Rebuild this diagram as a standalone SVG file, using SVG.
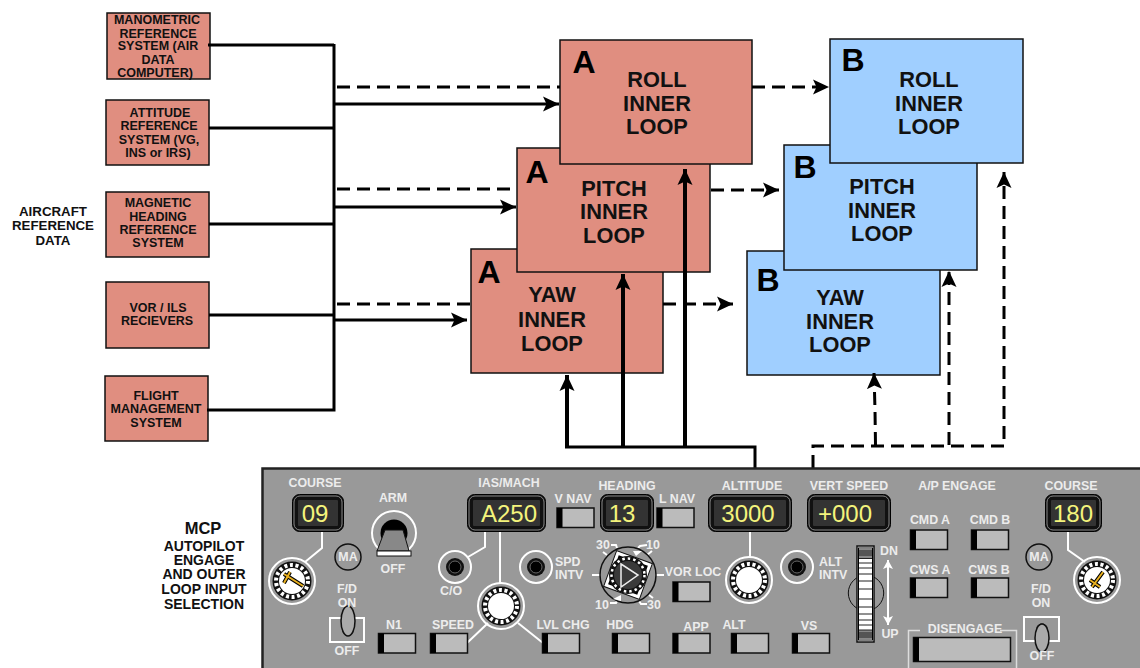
<svg xmlns="http://www.w3.org/2000/svg" width="1140" height="668" viewBox="0 0 1140 668">
<style>
text{font-family:"Liberation Sans",Arial,sans-serif;font-weight:700;text-anchor:middle}
.src{fill:#e08e80;stroke:#111;stroke-width:1.5}
.red{fill:#e08e80;stroke:#111;stroke-width:1.5}
.blue{fill:#a0cfff;stroke:#111;stroke-width:1.5}
.s{font-size:12.5px;fill:#111}
.o{font-size:13.300px;fill:#111}
.m{font-size:14px;fill:#111}
.big{font-size:21.800px;fill:#111}
.let{font-size:32px;fill:#000}
.p{font-size:12.400px;fill:#ececec}
.pl{text-anchor:start}
.num{font-size:24px;font-weight:400;fill:#f4f47c}
.sol{fill:none;stroke:#000;stroke-width:3}
.sol4{fill:none;stroke:#000;stroke-width:4}
.dash{fill:none;stroke:#000;stroke-width:3;stroke-dasharray:13 7}
.w{fill:none;stroke:#fff;stroke-width:2}
.bf{fill:#bbb;stroke:#111;stroke-width:1.5}
</style>
<defs>
<marker id="ah" markerUnits="userSpaceOnUse" markerWidth="18" markerHeight="18" refX="16" refY="8" orient="auto">
<path d="M0,0.5 L16,8 L0,15.5 L3.5,8z" fill="#000"/>
</marker>
<marker id="ahw" markerUnits="userSpaceOnUse" markerWidth="12" markerHeight="12" refX="9" refY="5" orient="auto">
<path d="M0,0 L9,5 L0,10 L2,5z" fill="#fff"/>
</marker>
<g id="btn"><rect class="bf" x="0" y="0" width="37" height="19.5"/><rect x="0" y="0" width="5.5" height="19.5" fill="#000"/></g>
<g id="knob"><circle r="23" fill="none" stroke="#fff" stroke-width="2"/><circle r="19.5" fill="#111"/><circle r="16" fill="none" stroke="#fff" stroke-width="4" stroke-dasharray="3 2.6"/><circle r="13" fill="#fff"/></g>
<g id="jack"><circle r="16" fill="none" stroke="#fff" stroke-width="2"/><circle r="9" fill="#111"/><circle r="6" fill="#000" stroke="#666" stroke-width="1"/></g>
<g id="ma"><circle r="13" fill="none" stroke="#111" stroke-width="1.5"/></g>
</defs>

<g id="node-manometric"><rect class="src" x="107" y="13" width="103" height="66"/>
<text class="s" x="157" y="24">MANOMETRIC</text><text class="s" x="158" y="38">REFERENCE</text><text class="s" x="158" y="50">SYSTEM (AIR</text><text class="s" x="158" y="64">DATA</text><text class="s" x="155" y="77">COMPUTER)</text></g>
<g id="node-attitude"><rect class="src" x="106" y="100" width="103" height="65"/>
<text class="s" x="160" y="117">ATTITUDE</text><text class="s" x="159" y="130">REFERENCE</text><text class="s" x="159" y="144">SYSTEM (VG,</text><text class="s" x="158" y="157">INS or IRS)</text></g>
<g id="node-magnetic"><rect class="src" x="106" y="192" width="103" height="65"/>
<text class="s" x="158" y="207">MAGNETIC</text><text class="s" x="158" y="221">HEADING</text><text class="s" x="158" y="234">REFERENCE</text><text class="s" x="158" y="247">SYSTEM</text></g>
<g id="node-vor"><rect class="src" x="106" y="282" width="103" height="66"/>
<text class="s" x="158" y="312">VOR / ILS</text><text class="s" x="157" y="325">RECIEVERS</text></g>
<g id="node-fms"><rect class="src" x="105" y="376" width="103" height="65"/>
<text class="s" x="156" y="400">FLIGHT</text><text class="s" x="156" y="413">MANAGEMENT</text><text class="s" x="156" y="427">SYSTEM</text></g>

<g id="label-aircraft"><text class="o" x="53" y="216">AIRCRAFT</text><text class="o" x="53" y="230">REFERENCE</text><text class="o" x="53" y="245">DATA</text></g>
<g id="label-mcp"><text x="203" y="534" style="font-size:16.500px" fill="#111">MCP</text><text class="m" x="204" y="551">AUTOPILOT</text><text class="m" x="204" y="565">ENGAGE</text><text class="m" x="204" y="579">AND OUTER</text><text class="m" x="204" y="594">LOOP INPUT</text><text class="m" x="204" y="609">SELECTION</text></g>

<g id="node-yaw-a"><rect class="red" x="471" y="249" width="192" height="124"/><text class="let" x="489" y="283">A</text><text class="big" x="552" y="302">YAW</text><text class="big" x="552" y="327">INNER</text><text class="big" x="552" y="351">LOOP</text></g>
<g id="node-pitch-a"><rect class="red" x="517" y="148" width="193" height="124"/><text class="let" x="537" y="183">A</text><text class="big" x="614" y="196">PITCH</text><text class="big" x="614" y="219">INNER</text><text class="big" x="614" y="243">LOOP</text></g>
<g id="node-roll-a"><rect class="red" x="560" y="40" width="192" height="124"/><text class="let" x="584" y="73">A</text><text class="big" x="657" y="87">ROLL</text><text class="big" x="657" y="111">INNER</text><text class="big" x="657" y="134">LOOP</text></g>
<g id="node-yaw-b"><rect class="blue" x="747" y="251" width="193" height="124"/><text class="let" x="768" y="291">B</text><text class="big" x="840" y="305">YAW</text><text class="big" x="840" y="329">INNER</text><text class="big" x="840" y="352">LOOP</text></g>
<g id="node-pitch-b"><rect class="blue" x="784" y="145" width="193" height="125"/><text class="let" x="805" y="178">B</text><text class="big" x="882" y="194">PITCH</text><text class="big" x="882" y="218">INNER</text><text class="big" x="882" y="241">LOOP</text></g>
<g id="node-roll-b"><rect class="blue" x="830" y="39" width="193" height="124"/><text class="let" x="853" y="71">B</text><text class="big" x="929" y="87">ROLL</text><text class="big" x="929" y="111">INNER</text><text class="big" x="929" y="134">LOOP</text></g>

<g id="connectors">
<path class="sol" d="M208,45H334M209,128H334M209,224H334M209,315H334M207,410H335.500M334,44V411.500"/>
<path class="sol" d="M335,104H559" marker-end="url(#ah)"/>
<path class="sol" d="M335,207H516" marker-end="url(#ah)"/>
<path class="sol" d="M335,320H467" marker-end="url(#ah)"/>
<path class="dash" d="M337,87H560"/>
<path class="dash" d="M337,189H517"/>
<path class="dash" d="M337,304H471"/>
<path class="dash" d="M752,87H829" marker-end="url(#ah)"/>
<path class="dash" d="M711,190H779" marker-end="url(#ah)"/>
<path class="dash" d="M663,304H733" marker-end="url(#ah)"/>
<path class="sol" d="M755,468V447H565"/>
<path class="sol4" d="M567,447V375" marker-end="url(#ah)"/>
<path class="sol4" d="M623,447V274" marker-end="url(#ah)"/>
<path class="sol4" d="M685,447V169" marker-end="url(#ah)"/>
<path class="dash" d="M813,468V446H1004V172" marker-end="url(#ah)"/>
<path class="dash" d="M949,445V271" marker-end="url(#ah)"/>
<path class="dash" d="M875.500,445L875,410L874,373" marker-end="url(#ah)"/>
</g>

<g id="mcp-panel">
<rect x="262.500" y="468.500" width="880" height="204" fill="#999" stroke="#222" stroke-width="2.500"/>

<path class="w" d="M322,532V548L305,562M485,532V547L468,557M500,532V583M488,623L467,643M518,623L543,643M750,532V558M1068,532V550L1085,562"/>

<g id="displays">
<rect x="292.500" y="494.500" width="51" height="37" rx="7" fill="#111" stroke="#000" stroke-width="1"/><rect x="294" y="496" width="48" height="34" rx="6" fill="none" stroke="#888"/><rect x="298" y="500" width="40" height="26" rx="1" fill="#333"/>
<rect x="467.500" y="494.500" width="78" height="37" rx="7" fill="#111" stroke="#000" stroke-width="1"/><rect x="469" y="496" width="75" height="34" rx="6" fill="none" stroke="#888"/><rect x="473" y="500" width="67" height="26" rx="1" fill="#333"/>
<rect x="600.500" y="494.500" width="53" height="37" rx="7" fill="#111" stroke="#000" stroke-width="1"/><rect x="602" y="496" width="50" height="34" rx="6" fill="none" stroke="#888"/><rect x="606" y="500" width="42" height="26" rx="1" fill="#333"/>
<rect x="708.500" y="494.500" width="83" height="37" rx="7" fill="#111" stroke="#000" stroke-width="1"/><rect x="710" y="496" width="80" height="34" rx="6" fill="none" stroke="#888"/><rect x="714" y="500" width="72" height="26" rx="1" fill="#333"/>
<rect x="807.500" y="494.500" width="83" height="37" rx="7" fill="#111" stroke="#000" stroke-width="1"/><rect x="809" y="496" width="80" height="34" rx="6" fill="none" stroke="#888"/><rect x="813" y="500" width="72" height="26" rx="1" fill="#333"/>
<rect x="1045.500" y="494.500" width="56" height="37" rx="7" fill="#111" stroke="#000" stroke-width="1"/><rect x="1047" y="496" width="53" height="34" rx="6" fill="none" stroke="#888"/><rect x="1051" y="500" width="45" height="26" rx="1" fill="#333"/>
<text class="num" x="315" y="522">09</text><text class="num" x="509" y="522">A250</text><text class="num" x="622" y="522">13</text><text class="num" x="748" y="522">3000</text><text class="num" x="845" y="522">+000</text><text class="num" x="1073" y="522">180</text>
</g>

<use href="#btn" x="557" y="508"/><use href="#btn" x="657" y="508"/><use href="#btn" x="673" y="582"/>
<use href="#btn" x="378.500" y="633.500"/><use href="#btn" x="430.500" y="633.500"/><use href="#btn" x="542.500" y="633.500"/><use href="#btn" x="612.500" y="633.500"/><use href="#btn" x="673" y="633.500"/><use href="#btn" x="731.500" y="633.500"/><use href="#btn" x="792.500" y="633.500"/>
<use href="#btn" x="910.500" y="530"/><use href="#btn" x="971.500" y="530"/><use href="#btn" x="910.500" y="578"/><use href="#btn" x="971.500" y="578"/>
<rect class="bf" x="913.500" y="637.500" width="97" height="24"/><rect x="913.500" y="637.500" width="5.500" height="24" fill="#000"/>
<path d="M908.500,668V630.500H920M1000,630.500H1016.500V668" fill="none" stroke="#ddd" stroke-width="1.500"/>

<use href="#knob" x="292" y="581"/><use href="#knob" x="501" y="606"/><use href="#knob" x="749" y="580"/><use href="#knob" x="1097" y="580"/>
<path d="M284,574L303,586M290,572L284,583" stroke="#000" stroke-width="4" fill="none"/><path d="M284,574L303,586M290,572L284,583" stroke="#e8b020" stroke-width="2" fill="none"/>
<path d="M1103,572L1092,587M1090,580L1100,587" stroke="#000" stroke-width="4" fill="none"/><path d="M1103,572L1092,587M1090,580L1100,587" stroke="#e8b020" stroke-width="2" fill="none"/>

<use href="#jack" x="455" y="567"/><use href="#jack" x="536" y="567"/><use href="#jack" x="797" y="567"/>
<use href="#ma" x="348" y="557"/><use href="#ma" x="1039" y="557"/>

<g id="arm-toggle">
<circle cx="394" cy="533" r="22" fill="none" stroke="#fff" stroke-width="2"/>
<circle cx="394" cy="533" r="13.500" fill="#000"/><rect x="391" y="530" width="6" height="3" rx="1.500" fill="#fff"/>
<path d="M385,530H403L409,551H377z" fill="#888" stroke="#111"/>
<rect x="377" y="551" width="34" height="5" fill="#fff" stroke="#111"/>
</g>

<g id="fd-left"><rect x="330" y="618" width="34" height="24" fill="none" stroke="#fff" stroke-width="2"/><ellipse cx="348" cy="631" rx="5" ry="4" fill="#555" stroke="#111"/><ellipse cx="348" cy="621" rx="7" ry="15" fill="#aaa" stroke="#111" stroke-width="1.500"/></g>
<g id="fd-right"><rect x="1024" y="617" width="35" height="24" fill="none" stroke="#fff" stroke-width="2"/><ellipse cx="1042" cy="628" rx="5" ry="4" fill="#555" stroke="#111"/><ellipse cx="1042" cy="638" rx="7" ry="14" fill="#aaa" stroke="#111" stroke-width="1.500"/></g>

<g id="heading-selector">
<path class="w" d="M592,575H600M656,575H664M611,545H616L617,548M647,545L640,546L638,548M610,603H616L617,601M647,604H641L639,601M603,552L607,555M647,555L652,551M649,595L653,598"/>
<circle cx="628" cy="575" r="28" fill="#999" stroke="#111" stroke-width="1.500"/>
<rect x="609" y="556" width="38" height="38" fill="#fff" stroke="#111" transform="rotate(20 628 575)"/>
<rect x="612.500" y="559.500" width="31" height="31" fill="#000" transform="rotate(20 628 575)"/>
<circle cx="628" cy="575" r="19" fill="#111"/>
<circle cx="628" cy="575" r="16.500" fill="none" stroke="#fff" stroke-width="2.500" stroke-dasharray="2.500 3"/>
<circle cx="628" cy="575" r="14" fill="#3a3a3a"/>
<path d="M621,564L638,575L621,587z" fill="none" stroke="#eee" stroke-width="1.500"/>
<path d="M633,551L642,551L636,556zM613,599L621,595L621,601z" fill="#fff"/>
</g>

<g id="pitch-wheel">
<circle cx="866" cy="593" r="17.700" fill="none" stroke="#111"/>
<rect x="857" y="546" width="17" height="96" fill="#fff" stroke="#111" stroke-width="1.500"/>
<rect x="858.500" y="548" width="14" height="92" fill="#fff" stroke="#000"/>
<rect x="859" y="548.500" width="13" height="10" fill="#888"/><rect x="859" y="630" width="13" height="9.500" fill="#888"/>
<path d="M859,551H872M859,553H872M859,555H872M859,558.500H872M859,563H872M859,568H872M859,574H872M859,581H872M859,589H872M859,599H872M859,607H872M859,614H872M859,620H872M859,625H872M859,630H872M859,633H872M859,635H872M859,637H872" stroke="#222" stroke-width="1"/>
<path d="M888,592V560" class="w" marker-end="url(#ahw)"/>
<path d="M888,592V625" class="w" marker-end="url(#ahw)"/>
</g>

<g id="panel-labels">
<text class="p" x="315" y="487">COURSE</text><text class="p" x="393" y="502">ARM</text><text class="p" x="393" y="573">OFF</text><text class="p" x="509" y="487">IAS/MACH</text>
<text class="p" x="348" y="561">MA</text><text class="p" x="1039" y="561">MA</text>
<text class="p" x="451" y="595">C/O</text><text class="p" x="347" y="593">F/D</text><text class="p" x="347" y="607">ON</text><text class="p" x="347" y="655">OFF</text>
<text class="p" x="394" y="629">N1</text><text class="p" x="453" y="629">SPEED</text><text class="p" x="563" y="629">LVL CHG</text><text class="p" x="620" y="629">HDG</text><text class="p" x="696" y="631">APP</text><text class="p" x="734" y="629">ALT</text><text class="p" x="809" y="630">VS</text>
<text class="p" x="627" y="490">HEADING</text><text class="p" x="573" y="503">V NAV</text><text class="p" x="677" y="503">L NAV</text><text class="p" x="752" y="490">ALTITUDE</text><text class="p" x="849" y="490">VERT SPEED</text>
<text class="p pl" x="555" y="566">SPD</text><text class="p pl" x="555" y="579">INTV</text><text class="p" x="693" y="576">VOR LOC</text><text class="p pl" x="819" y="566">ALT</text><text class="p pl" x="819" y="579">INTV</text>
<text class="p" x="603" y="549">30</text><text class="p" x="653" y="549">10</text><text class="p" x="602" y="609">10</text><text class="p" x="654" y="609">30</text>
<text class="p" x="957" y="490">A/P ENGAGE</text><text class="p" x="930" y="524">CMD A</text><text class="p" x="990" y="524">CMD B</text><text class="p" x="930" y="574">CWS A</text><text class="p" x="989" y="574">CWS B</text>
<text class="p" x="1071" y="490">COURSE</text><text class="p" x="1041" y="593">F/D</text><text class="p" x="1041" y="607">ON</text><text class="p" x="1042" y="660">OFF</text>
<text class="p" x="965" y="633">DISENGAGE</text><text class="p" x="889" y="555">DN</text><text class="p" x="890" y="638">UP</text>
</g>
</g>
</svg>
